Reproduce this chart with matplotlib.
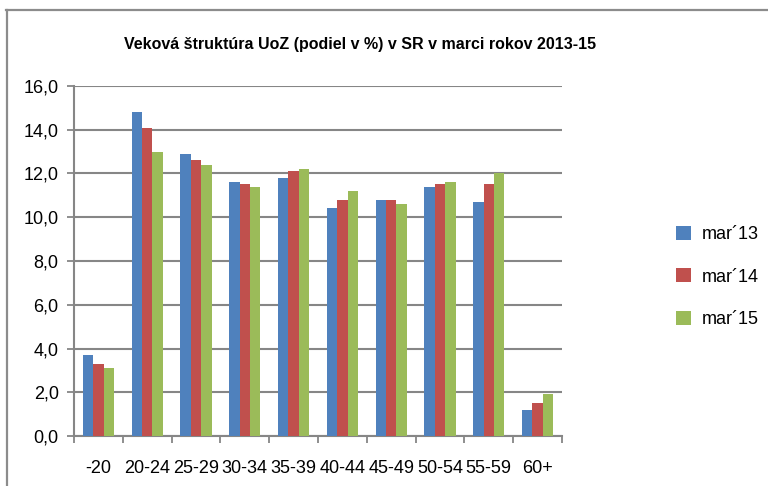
import numpy as np
import matplotlib
matplotlib.use("Agg")
import matplotlib.pyplot as plt
from matplotlib.lines import Line2D

plt.rcParams['font.family'] = ['Liberation Sans Narrow', 'Liberation Sans', 'DejaVu Sans']

categories = ['-20', '20-24', '25-29', '30-34', '35-39', '40-44', '45-49', '50-54', '55-59', '60+']
mar13 = [3.7, 14.8, 12.9, 11.6, 11.8, 10.4, 10.8, 11.4, 10.7, 1.2]
mar14 = [3.3, 14.1, 12.6, 11.5, 12.1, 10.8, 10.8, 11.5, 11.5, 1.5]
mar15 = [3.1, 13.0, 12.4, 11.4, 12.2, 11.2, 10.6, 11.6, 12.0, 1.9]
series = ['mar\u00b413', 'mar\u00b414', 'mar\u00b415']
colors = ['#4F81BD', '#C0504D', '#9BBB59']

W, H = 768, 486
fig = plt.figure(figsize=(W / 100, H / 100), dpi=100)
ax = fig.add_axes([74 / W, 1 - 436 / H, 488 / W, 350 / H])

x = np.arange(len(categories))
w = 0.212
for i, (vals, name, c) in enumerate(zip([mar13, mar14, mar15], series, colors)):
    ax.bar(x + (i - 1) * w, vals, width=w, color=c, label=name, zorder=3)

ax.set_xlim(-0.5, len(categories) - 0.5)
ax.set_ylim(0, 16)
yt = np.arange(0, 17, 2)
ax.set_yticks(yt)
ax.set_yticklabels([f'{v:.1f}'.replace('.', ',') for v in yt])
ax.set_xticks(x)
ax.set_xticklabels(categories)
ax.set_xticks(np.arange(-0.5, len(categories)), minor=True)
ax.tick_params(axis='x', which='major', length=0, pad=17, labelsize=13)
ax.tick_params(axis='x', which='minor', length=5, width=1.3, color='#868686', direction='out')
ax.tick_params(axis='y', length=5, width=1.3, color='#868686', pad=6, labelsize=13)

ax.grid(axis='y', color='#868686', linewidth=1.5, zorder=0)
for s in ['top', 'right']:
    ax.spines[s].set_visible(False)
for s in ['left', 'bottom']:
    ax.spines[s].set_color('#868686')
    ax.spines[s].set_linewidth(1.5)

fig.text(360 / W, 1 - 44 / H, 'Veková štruktúra UoZ (podiel v %) v SR v marci rokov 2013-15',
         ha='center', va='center', fontsize=11.5, fontweight='bold')

fig.legend(loc='center left', bbox_to_anchor=(660 / W, 1 - 277 / H), frameon=False,
           fontsize=13, handlelength=0.8, handleheight=0.8, handletextpad=0.6, labelspacing=1.4)

# chart frame: only left and top edges visible
fig.add_artist(Line2D([7 / W, 7 / W], [0, 1 - 10 / H], transform=fig.transFigure,
                      color='#8c8c8c', linewidth=1.6))
fig.add_artist(Line2D([6 / W, 1], [1 - 10 / H, 1 - 10 / H], transform=fig.transFigure,
                      color='#8c8c8c', linewidth=1.6))

fig.savefig('out.png', dpi=100)
